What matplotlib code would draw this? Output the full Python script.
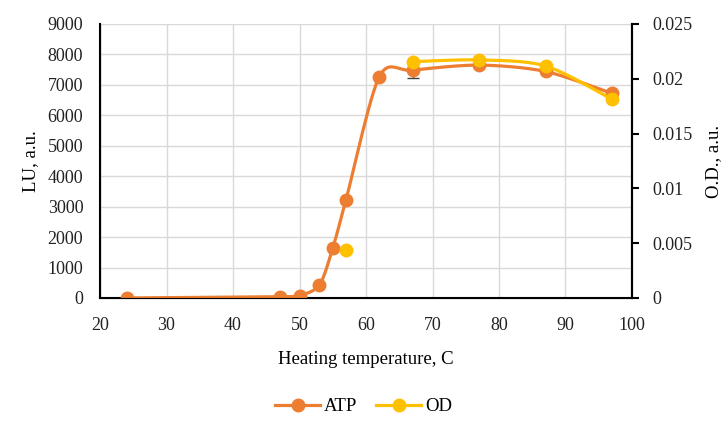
import numpy as np
import matplotlib
matplotlib.use("Agg")
import matplotlib.pyplot as plt
from matplotlib.lines import Line2D

plt.rcParams['font.family'] = ['Liberation Serif', 'DejaVu Serif']

# heating temperature, C
temps_atp = [24, 47, 50, 53, 55, 57, 62, 67, 77, 87, 97]
atp = [0, 40, 80, 430, 1640, 3230, 7270, 7480, 7650, 7440, 6720]
atp_err = [0, 0, 0, 0, 0, 0, 0, 260, 0, 0, 0]

# OD: lone point at 57, then a connected run from 67 on
od_single_t = [57]
od_single = [0.00438]
temps_od = [67, 77, 87, 97]
od = [0.02156, 0.02172, 0.02117, 0.01813]

ORANGE = "#ED7D31"
YELLOW = "#FFC000"


def smooth(xs, ys, n=40, k=7.0):
    # excel style smoothing: bezier segments with catmull-rom-ish control points
    xs = np.asarray(xs, float)
    ys = np.asarray(ys, float)
    px = np.concatenate([[xs[0]], xs, [xs[-1]]])
    py = np.concatenate([[ys[0]], ys, [ys[-1]]])
    outx, outy = [], []
    t = np.linspace(0, 1, n)
    for i in range(1, len(px) - 2):
        p0 = np.array([px[i], py[i]])
        p3 = np.array([px[i + 1], py[i + 1]])
        c1 = p0 + (p3 - np.array([px[i - 1], py[i - 1]])) / k
        c2 = p3 - (np.array([px[i + 2], py[i + 2]]) - p0) / k
        b = ((1 - t) ** 3)[:, None] * p0 + (3 * (1 - t) ** 2 * t)[:, None] * c1 \
            + (3 * (1 - t) * t ** 2)[:, None] * c2 + (t ** 3)[:, None] * p3
        outx.extend(b[:, 0])
        outy.extend(b[:, 1])
    return outx, outy


fig = plt.figure(figsize=(7.27, 4.26), dpi=100)
ax = fig.add_axes([0.1376, 0.3005, 0.7317, 0.6432])

ax.set_xlim(20, 100)
ax.set_ylim(0, 9000)
ax.set_xticks(range(20, 101, 10))
ax.set_yticks(range(0, 9001, 1000))
ax.grid(True, color="#d9d9d9", linewidth=1)
ax.set_axisbelow(True)
ax.tick_params(length=0, labelsize=13, colors="#222222")
ax.tick_params(axis="x", pad=14)
ax.tick_params(axis="y", pad=12)
for s in ["left", "bottom", "right"]:
    ax.spines[s].set_linewidth(1.5)
    ax.spines[s].set_color("black")
ax.spines["top"].set_visible(False)

sx, sy = smooth(temps_atp, atp)
ax.plot(sx, sy, color=ORANGE, linewidth=2.3, zorder=3)
ax.plot(temps_atp, atp, "o", color=ORANGE, markersize=9, zorder=4)
ax.errorbar([temps_atp[7]], [atp[7]], yerr=[[atp_err[7]], [atp_err[7]]],
            fmt="none", ecolor="#404040", elinewidth=1, capsize=4, zorder=3.5)

ax.set_xlabel("Heating temperature, C", fontsize=13.5, labelpad=12)
ax.set_ylabel("LU, a.u.", fontsize=13.5, labelpad=6)

ax2 = ax.twinx()
ax2.set_ylim(0, 0.025)
ax2.set_yticks([0, 0.005, 0.01, 0.015, 0.02, 0.025])
ax2.set_yticklabels(["0", "0.005", "0.01", "0.015", "0.02", "0.025"])
ax2.tick_params(direction="out", length=5, width=1.5, labelsize=13, colors="black",
                labelcolor="#222222", pad=10)
ax2.spines["top"].set_visible(False)
ax2.spines["right"].set_linewidth(1.5)
ax2.set_ylabel("O.D., a.u.", fontsize=13.5, labelpad=9)

ox, oy = smooth(temps_od, od)
ax2.plot(ox, oy, color=YELLOW, linewidth=2.3, zorder=3)
ax2.plot(temps_od, od, "o", color=YELLOW, markersize=9, zorder=4)
ax2.plot(od_single_t, od_single, "o", color=YELLOW, markersize=9, zorder=4)

handles = [
    Line2D([], [], color=ORANGE, linewidth=2.3, marker="o", markersize=9),
    Line2D([], [], color=YELLOW, linewidth=2.3, marker="o", markersize=9),
]
fig.legend(handles, ["ATP", "OD"], loc="center", bbox_to_anchor=(0.5, 0.045),
           ncol=2, frameon=False, fontsize=13.5, handlelength=2.4,
           handletextpad=0.2, columnspacing=1.0)

fig.savefig("out.png", dpi=100)
